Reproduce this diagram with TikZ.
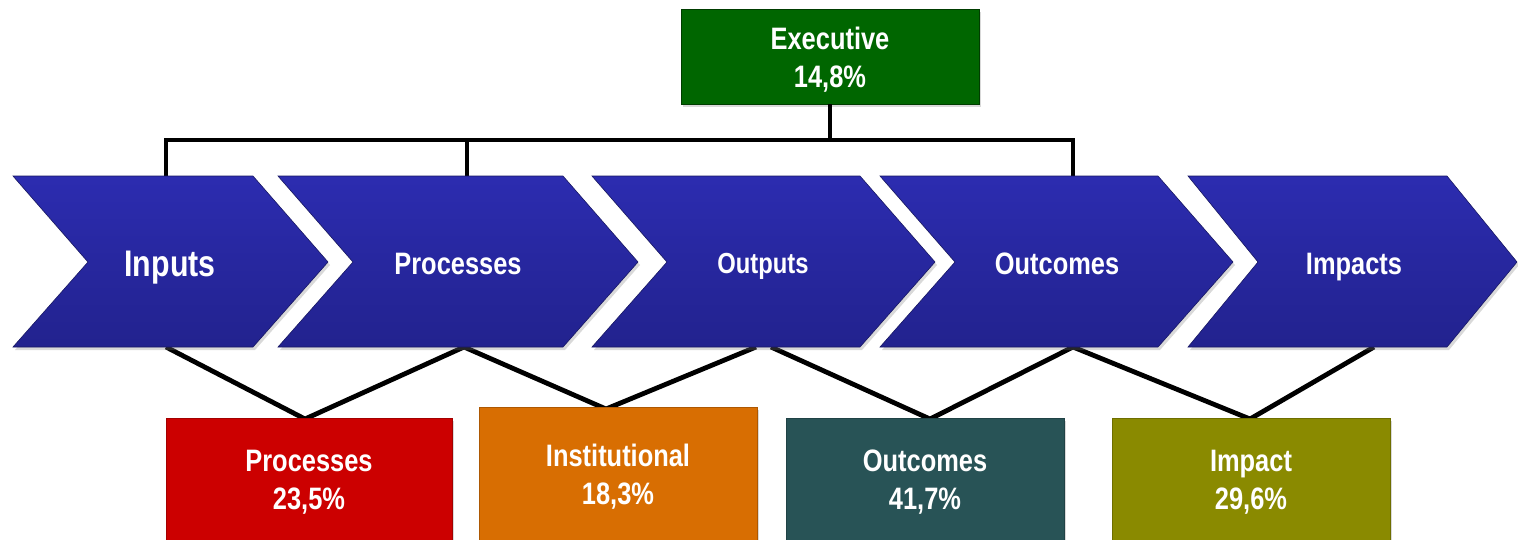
\documentclass[tikz,border=0pt]{standalone}
\usepackage{fontspec}
\setmainfont{Liberation Sans}[FakeStretch=0.82]
\usetikzlibrary{shadows}
\definecolor{chevtop}{HTML}{2C2CB0}
\definecolor{chevbot}{HTML}{22228E}
\definecolor{execgreen}{HTML}{006600}
\definecolor{boxred}{HTML}{CC0000}
\definecolor{boxorange}{HTML}{D86E02}
\definecolor{boxteal}{HTML}{285356}
\definecolor{boxolive}{HTML}{8A8A00}
\newcommand\chevshape[3]{%
  \path[chev] (#1,176) -- (#2,176) -- (#3,262) -- (#2,347) -- (#1,347) -- ({#1+#3-#2},262) -- cycle;}
\begin{document}
\begin{tikzpicture}[x=1pt,y=-1pt,
  chev/.style={top color=chevtop,bottom color=chevbot,draw=chevbot!70!black,line width=0.6pt,
    drop shadow={opacity=0.3,shadow xshift=2pt,shadow yshift=-3pt}},
  chevtext/.style={text=white,font=\bfseries\fontsize{31}{38}\selectfont,anchor=base,inner sep=0pt},
  box/.style={anchor=north,minimum height=150pt,inner sep=0pt,fill=#1,draw=#1!80!black,line width=0.6pt,
    drop shadow={opacity=0.3,shadow xshift=2pt,shadow yshift=-3pt}},
  boxtext/.style={text=white,font=\bfseries\fontsize{31}{38}\selectfont,align=center,inner sep=0pt},
  conn/.style={draw=black,line width=4.8pt,line join=miter}
]
\useasboundingbox (0,0) rectangle (1518,539);

% connection points on the chevrons
\coordinate (inT) at (166,176);
\coordinate (procT) at (467,176);
\coordinate (outcT) at (1073,176);
\coordinate (hub) at (830,140);
\coordinate (inB) at (166,347);
\coordinate (procB) at (464,347);
\coordinate (outpB) at (756,347);
\coordinate (outpB2) at (771,347);
\coordinate (outcB) at (1073,347);
\coordinate (impB) at (1374,347);
\coordinate (vproc) at (305,419);
\coordinate (vinst) at (606,409);
\coordinate (voutc) at (930,419);
\coordinate (vimp) at (1250,419);

% executive box
\node[box=execgreen,anchor=center,minimum width=298pt,minimum height=95pt,draw=execgreen!60!black] (exec) at (830,56.5) {};

% connectors
\draw[conn] (exec.south) -- (hub);
\draw[conn] (inT) -- (inT |- hub) -- (outcT |- hub) -- (outcT);
\draw[conn] (procT) -- (procT |- hub);
\draw[conn] (inB) -- (vproc) -- (procB);
\draw[conn] (procB) -- (vinst) -- (outpB);
\draw[conn] (outpB2) -- (voutc) -- (outcB);
\draw[conn] (outcB) -- (vimp) -- (impB);

% chevrons
\chevshape{13}{253}{328}
\chevshape{278}{563}{638}
\chevshape{592}{860}{935}
\chevshape{880}{1158}{1233}
\chevshape{1188}{1447}{1517}
\node[chevtext,font=\bfseries\fontsize{37}{40}\selectfont] (inputs) at (170,276) {Inputs};
\node[chevtext] (processes) at (458,274) {Processes};
\node[chevtext,font=\bfseries\fontsize{29}{36}\selectfont] (outputs) at (763,273) {Outputs};
\node[chevtext] (outcomes) at (1057,274) {Outcomes};
\node[chevtext] (impacts) at (1354,274) {Impacts};

% bottom boxes
\node[box=boxred,minimum width=286pt] (bproc) at (309,418) {};
\node[box=boxorange,minimum width=278pt] (binst) at (618,407) {};
\node[box=boxteal,minimum width=278pt] (boutc) at (925,418) {};
\node[box=boxolive,minimum width=278pt] (bimp) at (1251,418) {};

\node[boxtext] (texec) at (830,60) {Executive\\14,8\%};
\node[boxtext] (tproc) at (309,482) {Processes\\23,5\%};
\node[boxtext] (tinst) at (618,477) {Institutional\\18,3\%};
\node[boxtext] (toutc) at (925,482) {Outcomes\\41,7\%};
\node[boxtext] (timp) at (1251,482) {Impact\\29,6\%};
\end{tikzpicture}
\end{document}
